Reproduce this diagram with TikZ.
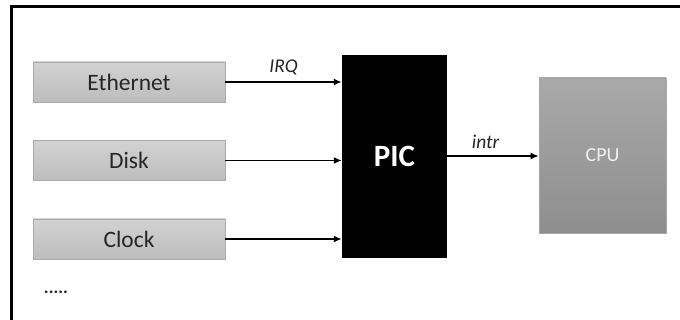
\documentclass[tikz,border=0pt]{standalone}
\usepackage{fontspec}
\setmainfont{Carlito}
\usetikzlibrary{arrows.meta}
\definecolor{boxtop}{HTML}{D2D2D2}
\definecolor{boxbot}{HTML}{BDBDBD}
\definecolor{cputop}{HTML}{A9A9A9}
\definecolor{cpubot}{HTML}{8E8E8E}
\definecolor{txt}{HTML}{262626}
\tikzset{
  dev/.style={draw=boxbot!90!black, line width=0.6pt, top color=boxtop, bottom color=boxbot,
    minimum width=192pt, minimum height=40pt, inner sep=0pt, text=txt,
    font=\fontsize{23.5}{26}\selectfont},
  conn/.style={line width=1.8pt, -{Latex[length=8pt,width=7pt]}},
  lbl/.style={font=\itshape\fontsize{19.5}{22}\selectfont, text=txt}
}
\begin{document}
\begin{tikzpicture}[x=1pt,y=-1pt]
\useasboundingbox (0,0) rectangle (680,320);
\fill[white] (0,0) rectangle (680,320);
\coordinate (tl) at (11,7);
\coordinate (tr) at (680,7);
\coordinate (bl) at (11,320);
\draw[line width=3pt] (tr) -- (tl) -- (bl);
\node[dev] (eth) at (129,82) {Ethernet};
\node[dev] (disk) at (129,160.5) {Disk};
\node[dev] (clk) at (129,239) {Clock};
\node[fill=black, minimum width=105pt, minimum height=203pt, inner sep=0pt, text=white,
  font=\bfseries\fontsize{31}{34}\selectfont] (pic) at (394.5,156.5) {PIC};
\node[top color=cputop, bottom color=cpubot, draw=cpubot!80!white, line width=0.6pt,
  minimum width=127pt, minimum height=155pt, inner sep=0pt, text=white!94!black,
  font=\fontsize{20}{24}\selectfont] (cpu) at (602.5,155.5) {CPU};
\draw[conn] (eth.east) -- (eth.east -| pic.west) node[lbl, midway, above=3pt] {IRQ};
\draw[conn] (disk.east) -- (disk.east -| pic.west);
\draw[conn] (clk.east) -- (clk.east -| pic.west);
\coordinate (ir) at (pic.east |- 0,156);
\draw[conn] (ir) -- (ir -| cpu.west) node[lbl, pos=0.42, above=3pt] {intr};
\node[font=\bfseries\fontsize{18}{20}\selectfont, text=txt] (dots) at (56,292) {.....};
\end{tikzpicture}
\end{document}
